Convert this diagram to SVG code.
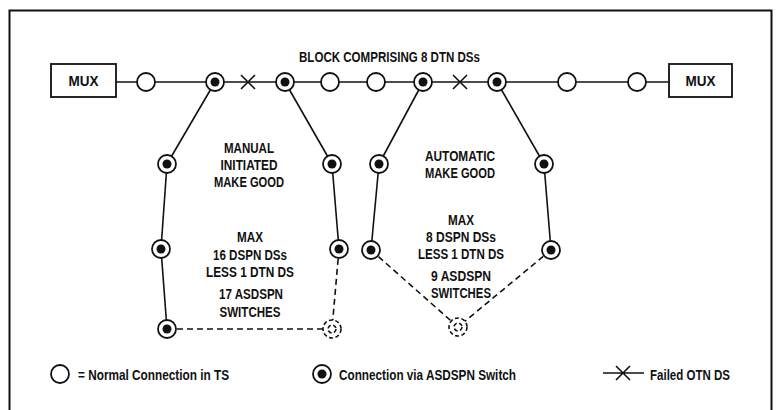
<svg xmlns="http://www.w3.org/2000/svg" width="777" height="410" viewBox="0 0 777 410">
<defs>
<style>
.t{font-family:"Liberation Sans Narrow","Liberation Sans",Arial,sans-serif;font-weight:bold;font-size:14px;fill:#111;text-anchor:middle}
.lg{font-family:"Liberation Sans Narrow","Liberation Sans",Arial,sans-serif;font-weight:bold;font-size:15px;fill:#111}
.ln{stroke:#111;stroke-width:1.6;fill:none}
.dl{stroke:#111;stroke-width:1.6;fill:none;stroke-dasharray:6 4}
.oc{stroke:#111;stroke-width:1.8;fill:#fff}
.dot{fill:#111}
.dc{stroke:#111;stroke-width:1.6;fill:#fff;stroke-dasharray:4 2.5}
.box{stroke:#111;stroke-width:1.8;fill:#fff}
</style>
<g id="sw"><circle class="oc" r="9"/><circle class="dot" r="4.5"/></g>
<g id="nc"><circle class="oc" r="9"/></g>
<g id="dsw"><circle class="dc" r="9"/><circle class="dc" r="4" stroke-dasharray="2 2"/></g>
</defs>
<rect x="0" y="0" width="777" height="410" fill="#fff"/>
<path d="M9.5 410 V10.5 H771.5 V410" fill="none" stroke="#111" stroke-width="2"/>

<g id="connectors">
<line class="ln" x1="116" y1="82" x2="669" y2="82"/>
<line class="ln" x1="215" y1="82" x2="167" y2="164"/>
<line class="ln" x1="285" y1="82" x2="332" y2="164"/>
<line class="ln" x1="167" y1="164" x2="161" y2="249"/>
<line class="ln" x1="332" y1="164" x2="339" y2="249"/>
<line class="ln" x1="161" y1="249" x2="167" y2="329"/>
<line class="dl" x1="339" y1="249" x2="332" y2="329"/>
<line class="dl" x1="167" y1="329" x2="332" y2="329"/>
<line class="ln" x1="423" y1="82" x2="379" y2="164"/>
<line class="ln" x1="497" y1="82" x2="544" y2="164"/>
<line class="ln" x1="379" y1="164" x2="371" y2="250"/>
<line class="ln" x1="544" y1="164" x2="551" y2="250"/>
<line class="dl" x1="371" y1="250" x2="458" y2="327"/>
<line class="dl" x1="551" y1="250" x2="458" y2="327"/>
<g id="fail1"><path class="ln" d="M241 75 L255 89 M255 75 L241 89"/></g>
<g id="fail2"><path class="ln" d="M453 75 L467 89 M467 75 L453 89"/></g>
</g>

<g id="mux-left"><rect class="box" x="51" y="64" width="65" height="33"/><text class="t" x="83.5" y="86" textLength="30" lengthAdjust="spacingAndGlyphs">MUX</text></g>
<g id="mux-right"><rect class="box" x="669" y="64" width="63" height="33"/><text class="t" x="700.5" y="86" textLength="30" lengthAdjust="spacingAndGlyphs">MUX</text></g>

<g id="n1"><use href="#nc" x="146" y="82"/></g>
<g id="n2"><use href="#sw" x="215" y="82"/></g>
<g id="n3"><use href="#sw" x="285" y="82"/></g>
<g id="n4"><use href="#nc" x="330" y="82"/></g>
<g id="n5"><use href="#nc" x="376" y="82"/></g>
<g id="n6"><use href="#sw" x="423" y="82"/></g>
<g id="n7"><use href="#sw" x="497" y="82"/></g>
<g id="n8"><use href="#nc" x="567" y="82"/></g>
<g id="n9"><use href="#nc" x="637" y="82"/></g>

<g id="l1"><use href="#sw" x="167" y="164"/></g>
<g id="l2"><use href="#sw" x="161" y="249"/></g>
<g id="l3"><use href="#sw" x="167" y="329"/></g>
<g id="l4"><use href="#sw" x="332" y="164"/></g>
<g id="l5"><use href="#sw" x="339" y="249"/></g>
<g id="l6"><use href="#dsw" x="332" y="329"/></g>

<g id="r1"><use href="#sw" x="379" y="164"/></g>
<g id="r2"><use href="#sw" x="371" y="250"/></g>
<g id="r3"><use href="#sw" x="544" y="164"/></g>
<g id="r4"><use href="#sw" x="551" y="250"/></g>
<g id="r5"><use href="#dsw" x="458" y="327"/></g>

<g id="title"><text class="t" x="389.5" y="62" textLength="181" lengthAdjust="spacingAndGlyphs">BLOCK COMPRISING 8 DTN DSs</text></g>

<g id="label-manual">
<text class="t" x="249" y="153" textLength="50" lengthAdjust="spacingAndGlyphs">MANUAL</text>
<text class="t" x="249" y="170" textLength="57" lengthAdjust="spacingAndGlyphs">INITIATED</text>
<text class="t" x="249" y="187" textLength="70" lengthAdjust="spacingAndGlyphs">MAKE GOOD</text>
<text class="t" x="250" y="242" textLength="26" lengthAdjust="spacingAndGlyphs">MAX</text>
<text class="t" x="250" y="260" textLength="74" lengthAdjust="spacingAndGlyphs">16 DSPN DSs</text>
<text class="t" x="250" y="277" textLength="88" lengthAdjust="spacingAndGlyphs">LESS 1 DTN DS</text>
<text class="t" x="251" y="299" textLength="64" lengthAdjust="spacingAndGlyphs">17 ASDSPN</text>
<text class="t" x="250" y="317" textLength="61" lengthAdjust="spacingAndGlyphs">SWITCHES</text>
</g>

<g id="label-auto">
<text class="t" x="460" y="161" textLength="70" lengthAdjust="spacingAndGlyphs">AUTOMATIC</text>
<text class="t" x="460" y="178" textLength="70" lengthAdjust="spacingAndGlyphs">MAKE GOOD</text>
<text class="t" x="461" y="225" textLength="26" lengthAdjust="spacingAndGlyphs">MAX</text>
<text class="t" x="461" y="242" textLength="70" lengthAdjust="spacingAndGlyphs">8 DSPN DSs</text>
<text class="t" x="461" y="259" textLength="86" lengthAdjust="spacingAndGlyphs">LESS 1 DTN DS</text>
<text class="t" x="461" y="281" textLength="60" lengthAdjust="spacingAndGlyphs">9 ASDSPN</text>
<text class="t" x="461" y="298" textLength="60" lengthAdjust="spacingAndGlyphs">SWITCHES</text>
</g>

<g id="legend-normal"><use href="#nc" x="60" y="374"/><text class="lg" x="78" y="380" textLength="151" lengthAdjust="spacingAndGlyphs">= Normal Connection in TS</text></g>
<g id="legend-switch"><use href="#sw" x="322" y="374"/><text class="lg" x="339" y="380" textLength="177" lengthAdjust="spacingAndGlyphs">Connection via ASDSPN Switch</text></g>
<g id="legend-failed"><path class="ln" d="M603 373 H644 M616 366 L630 380 M630 366 L616 380"/><text class="lg" x="650" y="380" textLength="80" lengthAdjust="spacingAndGlyphs">Failed OTN DS</text></g>
</svg>
